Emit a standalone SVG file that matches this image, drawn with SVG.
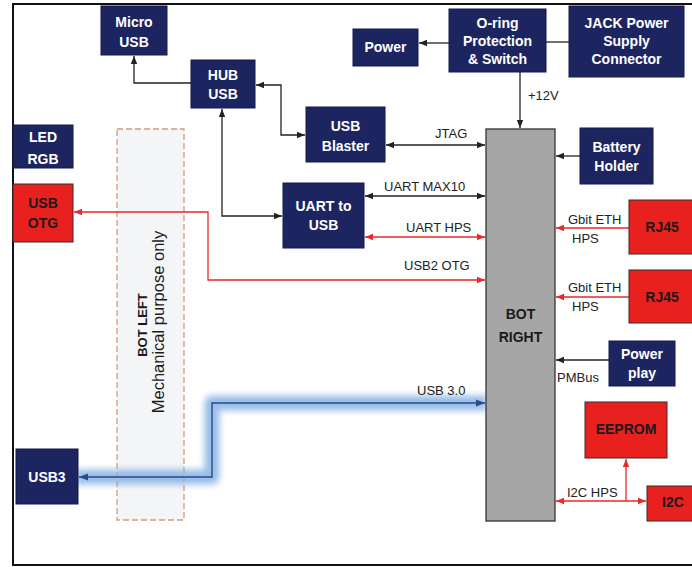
<svg xmlns="http://www.w3.org/2000/svg" width="692" height="567" viewBox="0 0 692 567">
<style>
.nv{fill:#1d2560;stroke:#151a45;stroke-width:1}
.rd{fill:#e8201e;stroke:#3a2a2a;stroke-width:1}
.wt{font-family:"Liberation Sans",Arial,sans-serif;font-weight:bold;font-size:14px;fill:#ffffff;text-anchor:middle}
.bk{font-family:"Liberation Sans",Arial,sans-serif;font-weight:bold;font-size:14px;fill:#1a1a1a;text-anchor:middle}
.lb{font-family:"Liberation Sans",Arial,sans-serif;font-size:13px;fill:#222}
.k{fill:none;stroke:#222;stroke-width:1.3}
.r{fill:none;stroke:#e8282a;stroke-width:1.3}
</style>
<defs>
<marker id="ak" viewBox="0 0 10 10" refX="10" refY="5" markerWidth="8" markerHeight="8" markerUnits="userSpaceOnUse" orient="auto-start-reverse"><path d="M0,1 L10,5 L0,9 z" fill="#222"/></marker>
<marker id="ar" viewBox="0 0 10 10" refX="10" refY="5" markerWidth="8" markerHeight="8" markerUnits="userSpaceOnUse" orient="auto-start-reverse"><path d="M0,1 L10,5 L0,9 z" fill="#e8282a"/></marker>
<marker id="ab" viewBox="0 0 10 10" refX="10" refY="5" markerWidth="9" markerHeight="9" markerUnits="userSpaceOnUse" orient="auto-start-reverse"><path d="M0,1 L10,5 L0,9 z" fill="#2a4a8a"/></marker>
<filter id="glow" x="-10%" y="-60%" width="120%" height="220%"><feGaussianBlur stdDeviation="3"/></filter>
</defs>
<rect width="692" height="567" fill="#ffffff"/>
<g id="frame" fill="none" stroke="#111" stroke-width="2">
<path d="M692,4 H13 V565 H692"/>
</g>

<g id="bot-left">
<rect x="117" y="129" width="67" height="391" fill="#f4f5f7" stroke="#d49a78" stroke-width="1.3" stroke-dasharray="6,3"/>
<text transform="translate(147,325) rotate(-90)" font-family="Liberation Sans,Arial,sans-serif" font-weight="bold" font-size="13px" fill="#1a1a1a" text-anchor="middle">BOT LEFT</text>
<text transform="translate(164,322) rotate(-90)" font-family="Liberation Sans,Arial,sans-serif" font-size="16.5px" fill="#1a1a1a" text-anchor="middle">Mechanical purpose only</text>
</g>

<g id="connectors">
<path class="k" d="M191,83 H134 V56" marker-end="url(#ak)"/>
<path class="k" d="M256,85 H281 V135 H305" marker-start="url(#ak)" marker-end="url(#ak)"/>
<path class="k" d="M222,109 V216 H282" marker-start="url(#ak)" marker-end="url(#ak)"/>
<path class="k" d="M449,43 H419" marker-end="url(#ak)"/>
<path class="k" d="M546,42 H569"/>
<path class="k" d="M520,72 V128" marker-end="url(#ak)"/>
<path class="k" d="M386,145 H485" marker-start="url(#ak)" marker-end="url(#ak)"/>
<path class="k" d="M365,196 H485" marker-start="url(#ak)" marker-end="url(#ak)"/>
<path class="r" d="M365,237 H485" marker-start="url(#ar)" marker-end="url(#ar)"/>
<path class="r" d="M485,280 H208 V212 H74" marker-start="url(#ar)" marker-end="url(#ar)"/>
<path class="k" d="M580,156 H556" marker-end="url(#ak)"/>
<path class="r" d="M629,228 H556" marker-end="url(#ar)"/>
<path class="r" d="M629,297 H556" marker-end="url(#ar)"/>
<path class="k" d="M609,360 H556" marker-end="url(#ak)"/>
<path class="r" d="M556,501 H646" marker-start="url(#ar)" marker-end="url(#ar)"/>
<path class="r" d="M626,501 V459" marker-end="url(#ar)"/>
<path d="M487,403 H212 V477 H76" fill="none" stroke="#86b2e4" stroke-width="15" stroke-linejoin="round" opacity="0.85" filter="url(#glow)"/>
<path d="M485,403 H212 V477 H79" fill="none" stroke="#2a4a8a" stroke-width="1.4" marker-start="url(#ab)" marker-end="url(#ab)"/>
<text class="lb" x="528" y="100">+12V</text>
<text class="lb" x="435" y="138">JTAG</text>
<text class="lb" x="384" y="191">UART MAX10</text>
<text class="lb" x="406" y="232">UART HPS</text>
<text class="lb" x="404" y="270">USB2 OTG</text>
<text class="lb" x="568" y="224">Gbit ETH</text>
<text class="lb" x="572" y="243">HPS</text>
<text class="lb" x="568" y="292">Gbit ETH</text>
<text class="lb" x="572" y="311">HPS</text>
<text class="lb" x="557" y="382">PMBus</text>
<text class="lb" x="417" y="395">USB 3.0</text>
<text class="lb" x="567" y="497">I2C HPS</text>
</g>

<g id="micro-usb"><rect class="nv" x="101" y="6" width="66" height="49"/><text class="wt" x="134" y="27">Micro</text><text class="wt" x="134" y="47">USB</text></g>
<g id="hub-usb"><rect class="nv" x="191" y="60" width="64" height="48"/><text class="wt" x="223" y="80">HUB</text><text class="wt" x="223" y="99">USB</text></g>
<g id="led-rgb"><rect class="nv" x="13" y="125" width="60" height="43"/><text class="wt" x="43" y="142">LED</text><text class="wt" x="43" y="164">RGB</text></g>
<g id="usb-otg"><rect class="rd" x="13" y="184" width="60" height="58"/><text class="bk" x="43" y="208">USB</text><text class="bk" x="43" y="228">OTG</text></g>
<g id="usb-blaster"><rect class="nv" x="306" y="107" width="79" height="55"/><text class="wt" x="345.5" y="131">USB</text><text class="wt" x="345.5" y="151">Blaster</text></g>
<g id="uart-to-usb"><rect class="nv" x="283" y="183" width="81" height="65"/><text class="wt" x="323.5" y="211">UART to</text><text class="wt" x="323.5" y="230">USB</text></g>
<g id="power"><rect class="nv" x="353" y="29" width="65" height="37"/><text class="wt" x="385.5" y="52">Power</text></g>
<g id="o-ring"><rect class="nv" x="449" y="9" width="97" height="63"/><text class="wt" x="497.5" y="28">O-ring</text><text class="wt" x="497.5" y="46">Protection</text><text class="wt" x="497.5" y="64">&amp; Switch</text></g>
<g id="jack"><rect class="nv" x="569" y="6" width="115" height="71"/><text class="wt" x="626.5" y="28">JACK Power</text><text class="wt" x="626.5" y="46">Supply</text><text class="wt" x="626.5" y="64">Connector</text></g>
<g id="battery"><rect class="nv" x="580" y="128" width="73" height="56"/><text class="wt" x="616.5" y="152">Battery</text><text class="wt" x="616.5" y="171">Holder</text></g>
<g id="bot-right"><rect x="486" y="129" width="69" height="392" fill="#a6a6a6" stroke="#333" stroke-width="1.3"/><text class="bk" x="520.5" y="319">BOT</text><text class="bk" x="520.5" y="342">RIGHT</text></g>
<g id="rj45-1"><rect class="rd" x="629" y="200" width="64" height="54"/><text class="bk" x="662" y="232">RJ45</text></g>
<g id="rj45-2"><rect class="rd" x="629" y="270" width="64" height="53"/><text class="bk" x="662" y="302">RJ45</text></g>
<g id="power-play"><rect class="nv" x="609" y="341" width="66" height="45"/><text class="wt" x="642" y="359">Power</text><text class="wt" x="642" y="378">play</text></g>
<g id="eeprom"><rect class="rd" x="585" y="402" width="82" height="56"/><text class="bk" x="626" y="434">EEPROM</text></g>
<g id="i2c"><rect class="rd" x="647" y="486" width="46" height="35"/><text class="bk" x="673" y="507">I2C</text></g>
<g id="usb3"><rect class="nv" x="16" y="449" width="62" height="55"/><text class="wt" x="47" y="482">USB3</text></g>
</svg>
